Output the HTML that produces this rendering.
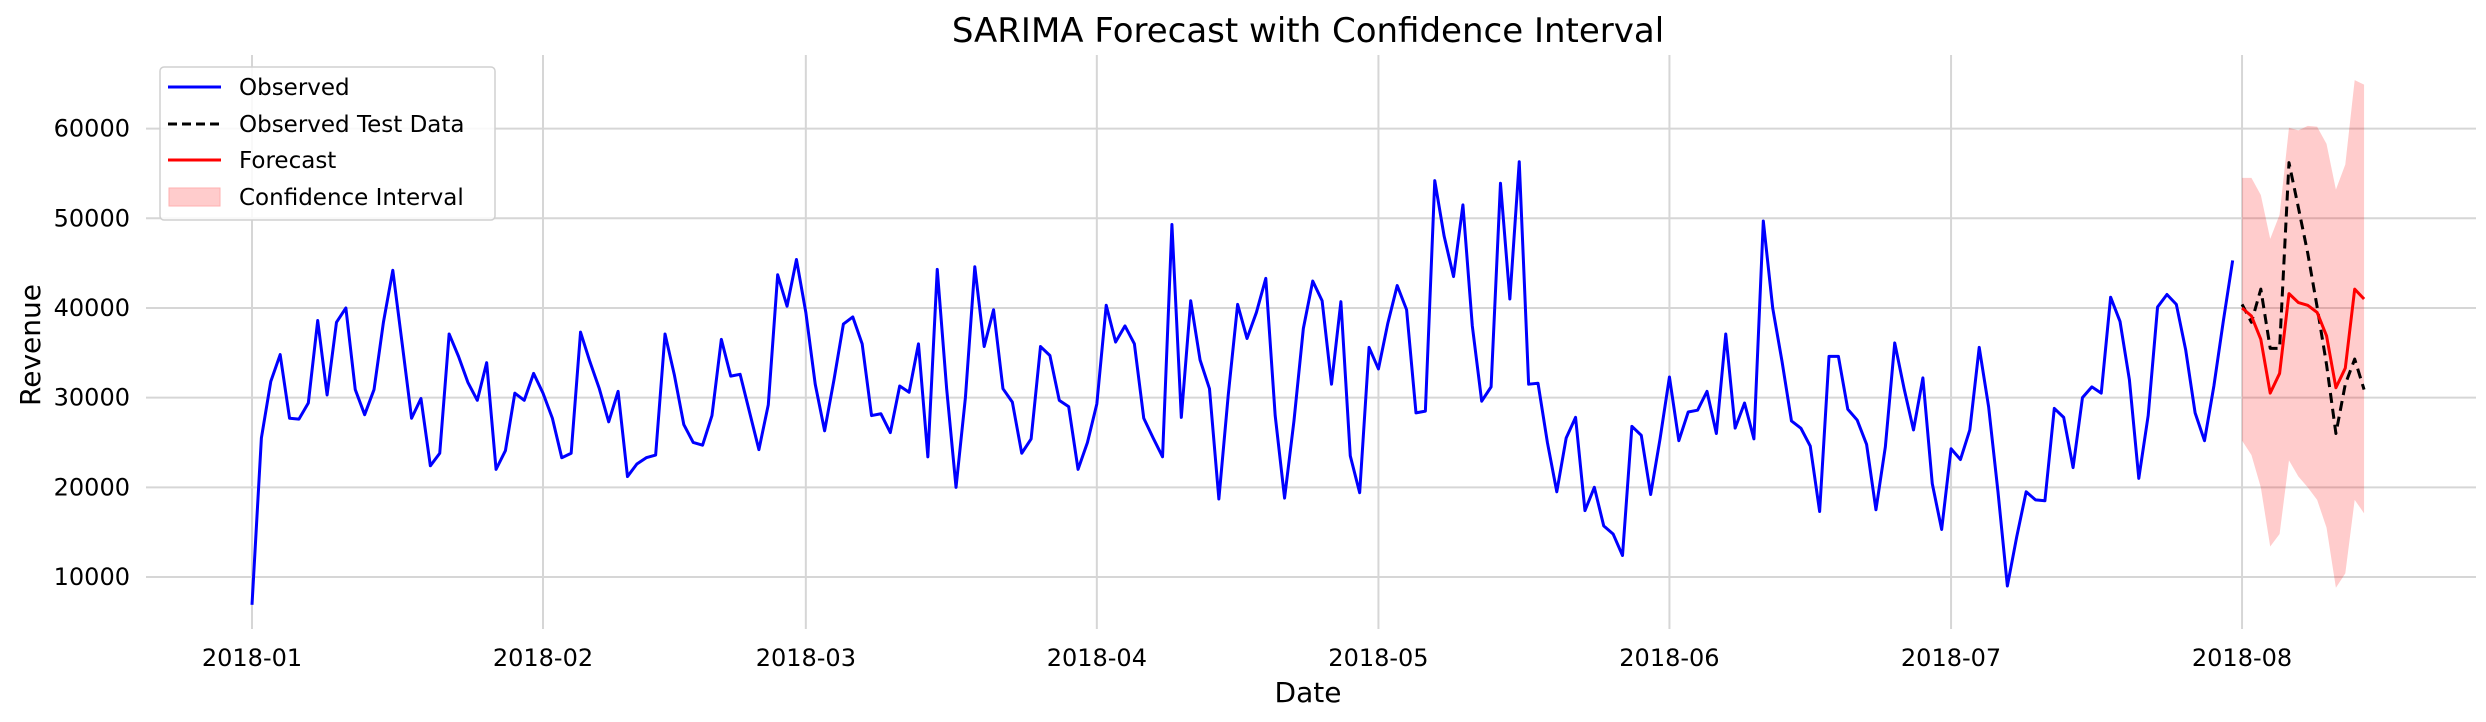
<!DOCTYPE html>
<html><head><meta charset="utf-8"><title>SARIMA Forecast</title>
<style>html,body{margin:0;padding:0;background:#fff}svg{display:block}text{font-family:"DejaVu Sans","Liberation Sans",sans-serif}</style>
</head><body>
<svg id="chart" width="2486" height="722" viewBox="0 0 2486 722" xmlns="http://www.w3.org/2000/svg">
<g id="grid"></g>
<g id="ticks"></g>
<g id="marks"></g>
<text x="1308" y="42" font-size="34" text-anchor="middle" fill="#000">SARIMA Forecast with Confidence Interval</text>
<text x="1308" y="702" font-size="28" text-anchor="middle" fill="#000">Date</text>
<text x="0" y="0" font-size="28" text-anchor="middle" fill="#000" transform="translate(40,345) rotate(-90)">Revenue</text>
<g>
<rect x="160" y="67" width="335" height="153" rx="4" fill="#fff" fill-opacity="0.85" stroke="#d0d0d0" stroke-width="1.5"/>
<line x1="168" y1="87" x2="221" y2="87" stroke="#0000ff" stroke-width="3"/>
<text x="239" y="95" font-size="23">Observed</text>
<line x1="168" y1="124" x2="221" y2="124" stroke="#000" stroke-width="3" stroke-dasharray="9,5"/>
<text x="239" y="132" font-size="23">Observed Test Data</text>
<line x1="168" y1="160" x2="221" y2="160" stroke="#ff0000" stroke-width="3"/>
<text x="239" y="168" font-size="23">Forecast</text>
<rect x="169" y="188" width="51" height="18" fill="#ffcccc" stroke="#ffb0b0" stroke-width="1"/>
<text x="239" y="205" font-size="23">Confidence Interval</text>
</g>
</svg>
<script>
const observedValues = [6.9,25.5,31.8,34.8,27.7,27.6,29.4,38.6,30.3,38.4,40,30.9,28.1,30.9,38.4,44.2,36,27.7,29.9,22.4,23.8,37.1,34.6,31.7,29.7,33.9,22,24.1,30.5,29.7,32.7,
30.5,27.7,23.3,23.8,37.3,34,31,27.3,30.7,21.2,22.6,23.3,23.6,37.1,32.5,27,25,24.7,28,36.5,32.4,32.6,28.4,24.2,29.2,43.7,40.2,45.4,
39.5,31.5,26.3,32,38.2,39,36,28,28.2,26.1,31.3,30.6,36,23.4,44.3,31,20,30,44.6,35.7,39.8,31,29.5,23.8,25.4,35.7,34.7,29.7,29,22,25,
29.3,40.3,36.2,38,36,27.7,25.5,23.4,49.3,27.8,40.8,34.2,31,18.7,30.3,40.4,36.6,39.5,43.3,28,18.8,27.4,37.7,43,40.8,31.5,40.7,23.5,19.4,35.6,
33.2,38.3,42.5,39.8,28.3,28.5,54.2,48,43.5,51.5,38,29.6,31.2,53.9,41,56.3,31.5,31.6,25,19.5,25.5,27.8,17.4,20,15.7,14.8,12.4,26.8,25.8,19.2,25.4,
32.3,25.2,28.4,28.6,30.7,26,37.1,26.6,29.4,25.4,49.7,40,34,27.4,26.6,24.6,17.3,34.6,34.6,28.7,27.5,24.8,17.5,24.5,36.1,31,26.4,32.2,20.4,15.3,
24.3,23.1,26.4,35.6,29,19.5,9,14.5,19.5,18.6,18.5,28.8,27.8,22.2,30,31.2,30.5,41.2,38.5,32,21,28,40.1,41.5,40.4,35.3,28.3,25.2,31.3,38.5,45.3];
const forecastValues = [40.0,39.1,36.5,30.5,32.7,41.6,40.6,40.3,39.5,36.9,31.1,33.3,42.1,41.0];
const testValues = [40.4,38.4,42.1,35.5,35.5,56.2,51.2,46.1,40.1,33.7,26.0,31.5,34.3,30.9];
const upperCI = [54.5,54.5,52.6,47.7,50.4,60.1,59.8,60.3,60.2,58.3,53.2,56.0,65.4,64.9];
const lowerCI = [25.2,23.6,20.0,13.4,14.8,23.0,21.2,20.0,18.6,15.5,8.8,10.4,18.6,17.1];
const yTicks = [10000,20000,30000,40000,50000,60000];
const xTickLabels = ["2018-01","2018-02","2018-03","2018-04","2018-05","2018-06","2018-07","2018-08"];
const xTickDays = [0,31,59,90,120,151,181,212];

const NS="http://www.w3.org/2000/svg";
function xs(day){return 252+day*9.387;}
function ys(v){return 577-(v-10000)*0.008968;}
function mk(tag,attrs,parent){const e=document.createElementNS(NS,tag);for(const k in attrs)e.setAttribute(k,attrs[k]);parent.appendChild(e);return e;}
const grid=document.getElementById('grid'),ticks=document.getElementById('ticks'),marks=document.getElementById('marks');
yTicks.forEach(function(t){
  const l=mk('line',{x1:146,x2:2476,y1:ys(t),y2:ys(t),stroke:'#d6d6d6','stroke-width':2},grid);
  
  
  const tx=mk('text',{x:130,y:ys(t)+8,'font-size':24,'text-anchor':'end'},ticks);
  tx.textContent=String(t);
  
  
});
xTickDays.forEach(function(d,i){
  const l=mk('line',{x1:xs(d),x2:xs(d),y1:55,y2:629,stroke:'#d6d6d6','stroke-width':2},grid);
  
  
  const tx=mk('text',{x:xs(d),y:666,'font-size':24,'text-anchor':'middle'},ticks);
  tx.textContent=xTickLabels[i];
  
  
});
const f0=212;
let up=[],lo=[];
upperCI.forEach(function(v,i){up.push(xs(f0+i)+','+ys(v*1000));});
lowerCI.forEach(function(v,i){lo.unshift(xs(f0+i)+','+ys(v*1000));});
const ci=mk('polygon',{points:up.concat(lo).join(' '),fill:'#ff0000','fill-opacity':0.2,stroke:'none'},marks);


function line(vals,start,color,dash,name){
  const pts=vals.map(function(v,i){return xs(start+i)+','+ys(v*1000);}).join(' ');
  const p=mk('polyline',{points:pts,fill:'none',stroke:color,'stroke-width':3,'stroke-linejoin':'round'},marks);
  if(dash)p.setAttribute('stroke-dasharray',dash);
  
  
}
line(observedValues,0,'#0000ff',null,'observed-line');
line(testValues,f0,'#000000','10,6','test-data-line');
line(forecastValues,f0,'#ff0000',null,'forecast-line');
</script>
</body></html>
